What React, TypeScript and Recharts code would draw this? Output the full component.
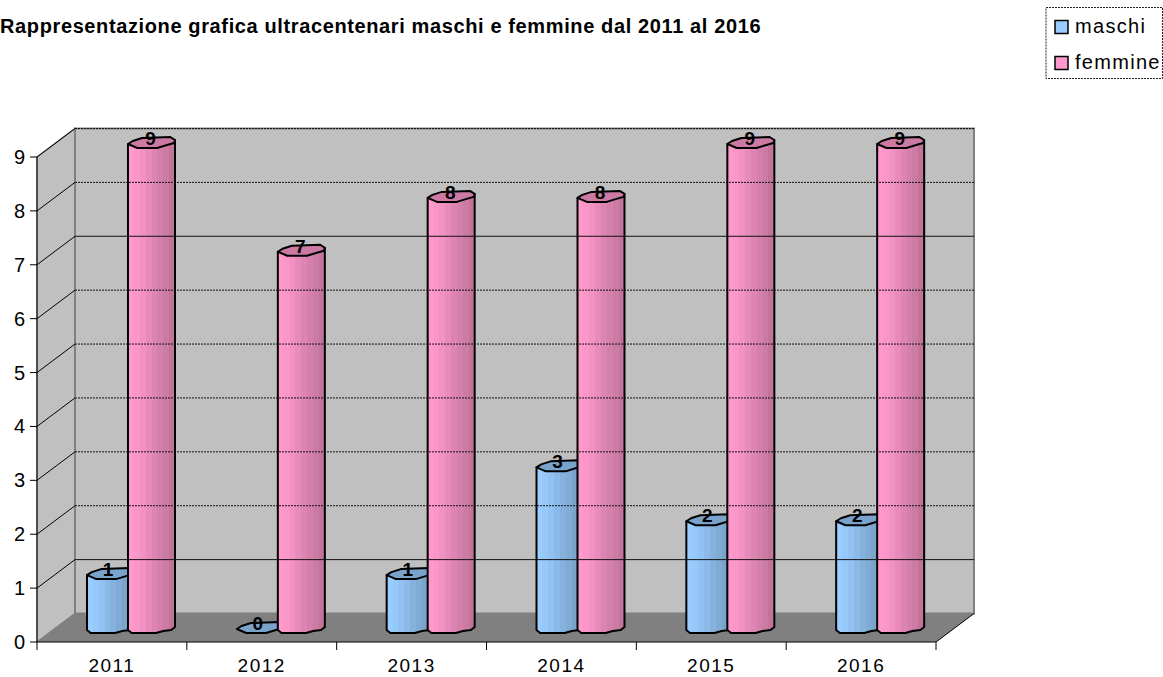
import React from "react";
import { BarChart, Bar, XAxis, YAxis, LabelList, usePlotArea } from "recharts";

const years = ["2011", "2012", "2013", "2014", "2015", "2016"];
const maschi = [1, 0, 1, 3, 2, 2];
const femmine = [9, 7, 8, 8, 9, 9];
const yTicks = [0, 1, 2, 3, 4, 5, 6, 7, 8, 9];
const solidGridTicks = [1, 7];
const titleText = "Rappresentazione grafica ultracentenari maschi e femmine dal 2011 al 2016";
const seriesNames = ["maschi", "femmine"];

const blueSteps = ["#99CCFF", "#96C8FA", "#91C2F2", "#8BBAE8", "#85B2DD", "#80ABD4", "#7BA4CB", "#76A0C6"];
const pinkSteps = ["#FF99CC", "#FA96C8", "#F292C2", "#E88BBA", "#DD85B2", "#D480AB", "#CB7BA4", "#C2749B"];
const blueTop = "#7AA3CC";
const pinkTop = "#CC7AA3";

const tableData = years.map((year, i) => ({ year, maschi: maschi[i], femmine: femmine[i] }));

const WIDTH = 1163;
const HEIGHT = 677;
const DX = 38;
const DY = -28.5;
const BAR_DX = 19;
const BAR_DY = -14;
const FONT = "'Liberation Sans', Arial, sans-serif";

function StepGradient({ id, steps }: { id: string; steps: string[] }) {
  const n = steps.length;
  return (
    <linearGradient id={id} x1="0" y1="0" x2="1" y2="0">
      {steps.flatMap((c, i) => [
        <stop key={i + "a"} offset={i / n} stopColor={c} />,
        <stop key={i + "b"} offset={(i + 1) / n} stopColor={c} />,
      ])}
    </linearGradient>
  );
}

function Walls() {
  const p = usePlotArea();
  if (!p) return null;
  const { x, y, width, height } = p;
  const b = y + height;
  const r = x + width;
  return (
    <g>
      <polygon points={`${x},${y} ${x + DX},${y + DY} ${x + DX},${b + DY} ${x},${b}`} fill="#C0C0C0" stroke="#808080" strokeWidth={1.5} />
      <rect x={x + DX} y={y + DY} width={width} height={height} fill="#C0C0C0" stroke="#808080" strokeWidth={2} />
      <polygon points={`${x},${b} ${r},${b} ${r + DX},${b + DY} ${x + DX},${b + DY}`} fill="#808080" />
      <line x1={r} y1={b} x2={r + DX} y2={b + DY} stroke="#000" />
      <line x1={x} y1={b} x2={x + DX} y2={b + DY} stroke="#808080" />
      {years.concat("").map((_, i) => {
        const tx = x + (i * width) / years.length;
        return <line key={i} x1={tx} y1={b} x2={tx} y2={b + 8} stroke="#000" />;
      })}
    </g>
  );
}

function YTick(props: any) {
  const { x, y, payload } = props;
  const left = x + 11;
  const value = payload.value as number;
  return (
    <g>
      {value > 0 && (
        <>
          <line x1={left} y1={y} x2={left + DX} y2={y + DY} stroke="#000" />
          <line
            x1={left + DX}
            y1={y + DY}
            x2={WIDTH - 227 + DX}
            y2={y + DY}
            stroke="#111"
            strokeDasharray={solidGridTicks.includes(value) ? undefined : "2 1"}
          />
        </>
      )}
      <text x={x - 1} y={y + 7} textAnchor="end" fontFamily={FONT} fontSize={20} fill="#000">
        {value}
      </text>
    </g>
  );
}

function Cylinder(props: any) {
  const { x, y, width, height, fillId, topColor } = props;
  const l = x + BAR_DX;
  const w = width;
  const top = y + BAR_DY;
  const base = y + height + BAR_DY;
  const px = (f: number) => l + f * w;
  const body = [
    [px(0), top + 1],
    [px(0), base + 2],
    [px(0.08), base + 5],
    [px(0.6), base + 5],
    [px(0.75), base + 3],
    [px(0.92), base + 2],
    [px(1), base - 1],
    [px(1), top - 3],
  ];
  const cap = [
    [px(0), top + 1],
    [px(0.1), top - 2],
    [px(0.3), top - 5],
    [px(0.9), top - 6],
    [px(1), top - 3],
    [px(0.98), top],
    [px(0.83), top + 2],
    [px(0.62), top + 5],
    [px(0.2), top + 5],
  ];
  const pts = (a: number[][]) => a.map((q) => q.join(",")).join(" ");
  return (
    <g>
      {height > 0 && (
        <polygon points={pts(body)} fill={`url(#${fillId})`} stroke="#000" strokeWidth={2} strokeLinejoin="round" />
      )}
      <polygon points={pts(cap)} fill={topColor} stroke="#000" strokeWidth={2} strokeLinejoin="round" />
    </g>
  );
}

function ValueLabel(props: any) {
  const { x, y, width, value, shift } = props;
  return (
    <text x={x + width / 2 + BAR_DX + shift} y={y + BAR_DY + 2} textAnchor="middle" fontFamily={FONT} fontSize={19} fontWeight="bold" fill="#000">
      {value}
    </text>
  );
}

function LegendBox() {
  const colors = [blueSteps[0], pinkSteps[0]];
  return (
    <g fontFamily={FONT}>
      <rect x={1046} y={7.5} width={116.5} height={71} fill="#fff" stroke="#222" strokeDasharray="2 1" />
      {seriesNames.map((name, i) => (
        <g key={name}>
          <rect x={1055} y={20.5 + i * 36} width={13} height={13} fill={colors[i]} stroke="#000" strokeWidth={1.5} />
          <text x={1075} y={33 + i * 36} fontSize={20} letterSpacing={1.3} fill="#000">
            {name}
          </text>
        </g>
      ))}
    </g>
  );
}

export default function App() {
  return (
    <div style={{ position: "absolute", left: 0, top: 0, width: WIDTH, height: HEIGHT }}>
      <BarChart
        width={WIDTH}
        height={HEIGHT}
        data={tableData}
        margin={{ top: 157, right: 227, bottom: 0, left: 0 }}
        barSize={47}
        barGap={-6}
      >
        <defs>
          <StepGradient id="blueBody" steps={blueSteps} />
          <StepGradient id="pinkBody" steps={pinkSteps} />
        </defs>
        <Walls />
        <text x={0} y={33} fontFamily={FONT} fontSize={20} letterSpacing={0.62} fontWeight="bold" fill="#000">
          {titleText}
        </text>
        <LegendBox />
        <XAxis
          dataKey="year"
          height={35}
          tickLine={false}
          tickSize={0}
          tickMargin={17}
          interval={0}
          stroke="#000"
          tick={{ fontFamily: FONT, fontSize: 19, fill: "#000", letterSpacing: 1.5 }}
        />
        <YAxis
          width={37}
          domain={[0, 9]}
          ticks={yTicks}
          interval={0}
          tickSize={7}
          tickMargin={4}
          stroke="#000"
          tick={YTick}
        />
        <Bar
          dataKey="maschi"
          name={seriesNames[0]}
          isAnimationActive={false}
          shape={(p: any) => <Cylinder {...p} fillId="blueBody" topColor={blueTop} />}
        >
          <LabelList dataKey="maschi" content={(p: any) => <ValueLabel {...p} shift={-2.5} />} />
        </Bar>
        <Bar
          dataKey="femmine"
          name={seriesNames[1]}
          isAnimationActive={false}
          shape={(p: any) => <Cylinder {...p} fillId="pinkBody" topColor={pinkTop} />}
        >
          <LabelList dataKey="femmine" content={(p: any) => <ValueLabel {...p} shift={-1} />} />
        </Bar>
      </BarChart>
    </div>
  );
}
